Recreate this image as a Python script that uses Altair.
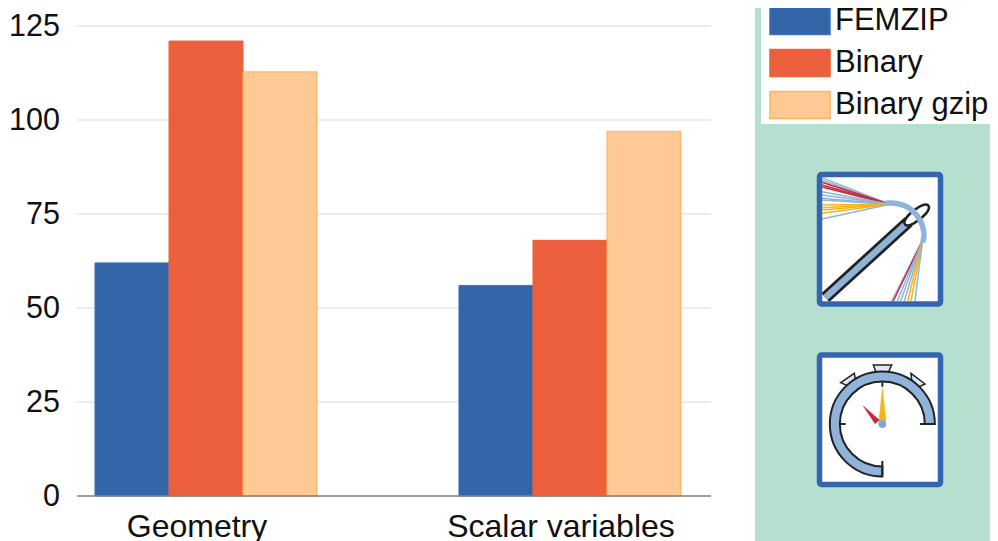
import altair as alt
import pandas as pd

groups = ["Geometry", "Scalar variables"]
series = ["FEMZIP", "Binary", "Binary gzip"]
femzip = [62, 56]
binary = [121, 68]
binary_gzip = [112.8, 97]
y_ticks = [0, 25, 50, 75, 100, 125]

fills = ["#3465A8", "#EC603D", "#FEC995"]
strokes = ["#3F70B8", "#EC603D", "#FDB44F"]
FONT = "Liberation Sans"
FS = 32
W, H = 982, 533

# page-pixel scales for the decorative panel and icons
X = alt.X("px:Q", axis=None, scale=alt.Scale(domain=[8, 990], range=[0, W], nice=False, zero=False))
Y = alt.Y("py:Q", axis=None, scale=alt.Scale(domain=[8, 541], range=[0, H], nice=False, zero=False))
X2 = alt.X2("px2:Q")
Y2 = alt.Y2("py2:Q")


def a1(p):
    return (810 + p[0] / 3, 165 + p[1] / 3)


def a2(p):
    return (810 + p[0] / 3, 345 + p[1] / 3)


def box(x0, y0, x1, y1, **kw):
    d = pd.DataFrame({"px": [x0], "py": [y0], "px2": [x1], "py2": [y1]})
    return alt.Chart(d).mark_rect(**kw).encode(x=X, y=Y, x2=X2, y2=Y2)


def lines(items, width, interpolate="linear"):
    rows = []
    for k, (color, pts) in enumerate(items):
        for i, (x, y) in enumerate(pts):
            rows.append({"id": k, "i": i, "c": color, "px": x, "py": y})
    return alt.Chart(pd.DataFrame(rows)).mark_line(strokeWidth=width, interpolate=interpolate).encode(
        x=X, y=Y, order="i:Q", detail="id:N", stroke=alt.Stroke("c:N", scale=None))


def shape(path, ax, ay, fill, stroke="#222222", sw=1.5):
    d = pd.DataFrame({"px": [ax], "py": [ay]})
    return alt.Chart(d).mark_point(shape=path, size=4, filled=True, fill=fill, stroke=stroke,
                                   strokeWidth=sw, opacity=1).encode(x=X, y=Y)


def poly(pts, fill, stroke="#222222", sw=1.5):
    ax, ay = pts[0]
    path = "M0,0" + "".join(f"L{x-ax:.2f},{y-ay:.2f}" for x, y in pts[1:]) + "Z"
    return shape(path, ax, ay, fill, stroke, sw)


GREEN = "#B5DFCF"
FRAME = "#3565AF"
THREAD = "#8FB3D9"
RED = "#C8283C"
GOLD = "#F4B41A"

back = [
    box(755, 8, 990, 541, color=GREEN),
    box(761, 8, 990, 124, color="white"),
    box(819.5, 174.5, 940.5, 304, color="white"),
    box(819.5, 355, 940.5, 484.5, color="white"),
]

# grid and bars
y_scale = alt.Scale(domain=[0, 125], range=[488, 18], nice=False)
grid_df = pd.DataFrame({"v": y_ticks[1:]})
grid = alt.Chart(grid_df).mark_rule(color="#D9D9D9", strokeWidth=1.2).encode(
    y=alt.Y("v:Q", scale=y_scale, axis=None), x=alt.value(69), x2=alt.value(703))

rows = []
for g, a, b, c in zip(groups, femzip, binary, binary_gzip):
    for s, v in zip(series, (a, b, c)):
        rows.append({"group": g, "series": s, "value": v})
bar_df = pd.DataFrame(rows)

legend = alt.Legend(
    orient="none", legendX=776, legendY=-3, title=None,
    symbolType="M-2,-0.9H2V0.9H-2Z", symbolSize=900, symbolStrokeWidth=1.5, symbolOpacity=1,
    labelFont=FONT, labelFontSize=31, labelColor="#111111", labelOffset=19, rowPadding=8,
    labelLimit=300)

bars = alt.Chart(bar_df).mark_bar(strokeWidth=1, opacity=1, fillOpacity=1).encode(
    x=alt.X("group:N", sort=groups,
            scale=alt.Scale(range=[87, 673], paddingInner=0.39, paddingOuter=0),
            axis=alt.Axis(title=None, domain=False, ticks=False, labelAngle=0, labelFont=FONT,
                          labelFontSize=FS, labelColor="#111111", labelPadding=15, labelLimit=400,
                          labelOffset=-9, offset=-45)),
    xOffset=alt.XOffset("series:N", sort=series, scale=alt.Scale(domain=series, paddingInner=0, paddingOuter=0)),
    y=alt.Y("value:Q", scale=y_scale,
            axis=alt.Axis(title=None, domain=False, ticks=False, grid=False, values=y_ticks,
                          labelFont=FONT, labelFontSize=30.5, labelColor="#111111", labelPadding=0,
                          offset=-51.5)),
    color=alt.Color("series:N", scale=alt.Scale(domain=series, range=fills), legend=legend),
    stroke=alt.Stroke("series:N", scale=alt.Scale(domain=series, range=strokes), legend=legend),
)

zero = alt.Chart(pd.DataFrame({"v": [0]})).mark_rule(color="#7F7F7F", strokeWidth=1.5).encode(
    y=alt.Y("v:Q", scale=y_scale, axis=None), x=alt.value(69), x2=alt.value(703))

# needle icon
hub = a1((240, 118))
left_ends = [(38, "#8FB3D9"), (45, "#8FB3D9"), (52, RED), (60, RED), (66, RED), (80, "#8FB3D9"),
             (90, "#8FB3D9"), (100, "#8FB3D9"), (105, "#8FB3D9"), (120, GOLD), (128, GOLD),
             (135, GOLD), (145, GOLD), (162, "#8FB3D9")]
left = lines([(c, [a1((36, y)), hub]) for y, c in left_ends], 1.5)
low = a1((338, 225))
bottom_ends = [(245, "#8FB3D9"), (250, RED), (262, "#8FB3D9"), (272, "#8FB3D9"), (283, "#8FB3D9"),
               (293, GOLD), (303, GOLD), (315, "#8FB3D9")]
bottom = lines([(c, [a1((x, 408)), low]) for x, c in bottom_ends], 1.5)

needle_pts = [a1((46, 398)), a1((296, 170))]
needle_black = lines([("#222222", needle_pts)], 12)
needle_blue = lines([(THREAD, needle_pts)], 6.5)
ex, ey = a1((320, 150))
eye = shape("M-11.7,9.3A15,5,-38.6,1,0,11.7,-9.3A15,5,-38.6,1,0,-11.7,9.3Z", ex, ey, "white", "#222222", 2.6)
thread = lines([(THREAD, [a1(p) for p in [(225, 115), (262, 116), (300, 131), (330, 165), (342, 205), (338, 232)]])],
               5.5, "cardinal")

# stopwatch icon
cx, cy = a2((217, 237))
ring = shape("M0,52.5A52.5,52.5,0,1,1,52.5,0L42.5,0A42.5,42.5,0,1,0,0,42.5Z", cx, cy, THREAD, "#222222", 2)
crown_top = poly([a2(p) for p in [(190, 60), (245, 60), (235, 82), (198, 82)]], "#DCE9F4")
crown_left = poly([a2(p) for p in [(92, 113), (133, 85), (136, 105), (112, 122)]], "#DCE9F4")
crown_right = poly([a2(p) for p in [(303, 85), (345, 117), (328, 125), (305, 105)]], "#DCE9F4")
tick_marks = lines([("#222222", [a2((217, 112)), a2((217, 125))]),
                    ("#222222", [a2((90, 237)), a2((107, 237))]),
                    ("#222222", [a2((330, 237)), a2((375, 237))]),
                    ("#222222", [a2((217, 348)), a2((217, 392))])], 2)
hand_gold = poly([a2(p) for p in [(217, 128), (228, 228), (207, 228)]], GOLD, GOLD, 0.5)
hand_red = poly([a2(p) for p in [(160, 183), (208, 225), (195, 236)]], RED, RED, 0.5)
hub_dot = alt.Chart(pd.DataFrame({"px": [cx], "py": [cy]})).mark_point(
    filled=True, size=62, color="#7FA8D8", opacity=1).encode(x=X, y=Y)

frames = [
    box(819.5, 174.5, 940.5, 304, fillOpacity=0, stroke=FRAME, strokeWidth=5.5, cornerRadius=2),
    box(819.5, 355, 940.5, 484.5, fillOpacity=0, stroke=FRAME, strokeWidth=5.5, cornerRadius=2),
]

chart = alt.layer(
    *back, grid, bars, zero,
    left, bottom, needle_black, needle_blue, eye, thread,
    crown_top, crown_left, crown_right, ring, tick_marks, hand_gold, hand_red, hub_dot,
    *frames,
).resolve_scale(x="independent", y="independent", color="independent", stroke="independent").properties(
    width=W, height=H, autosize=alt.AutoSizeParams(type="none"), padding=0,
).configure_view(stroke=None)

chart.save("out.html", embed_options={"renderer": "svg", "actions": False})
